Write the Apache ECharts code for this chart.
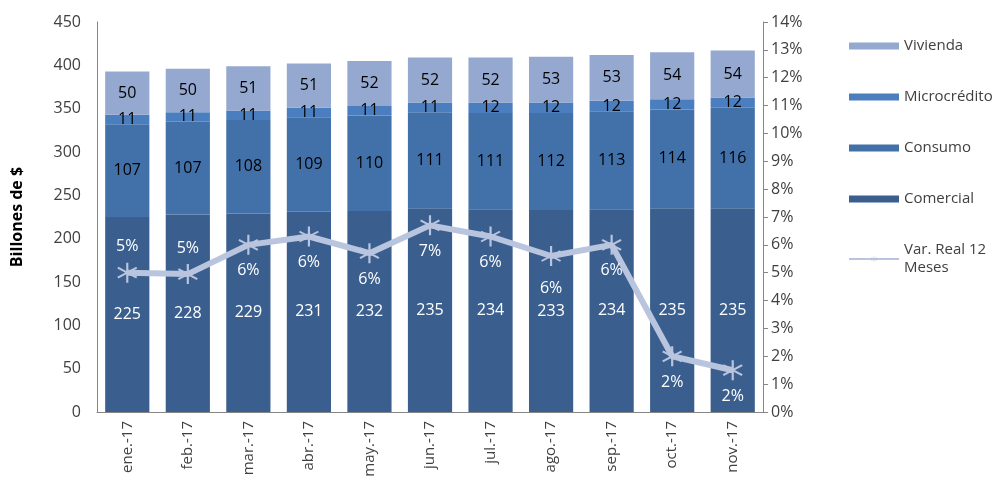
<!DOCTYPE html>
<html><head><meta charset="utf-8">
<script src="https://cdn.jsdelivr.net/npm/echarts@6/dist/echarts.min.js"></script>
<style>html,body{margin:0;padding:0;background:#fff}#c{width:1004px;height:497px}</style>
</head><body><div id="c"></div>
<script>
var categories = ['ene.-17','feb.-17','mar.-17','abr.-17','may.-17','jun.-17','jul.-17','ago.-17','sep.-17','oct.-17','nov.-17'];
var comercial = [225,228,229,231,232,235,234,233,234,235,235];
var consumo = [107,107,108,109,110,111,111,112,113,114,116];
var microcredito = [11,11,11,11,11,11,12,12,12,12,12];
var vivienda = [50,50,51,51,52,52,52,53,53,54,54];
var varReal = [5.0,4.95,6.0,6.3,5.7,6.7,6.3,5.6,6.0,2.0,1.5];
var leftTicks = {min:0,max:450,interval:50};
var rightTicks = {min:0,max:14,interval:1};

var FONT = 'Open Sans';
var star = 'path://M-1,-10L1,-10L1,10L-1,10Z M-9.16,-4.13L-8.16,-5.87L9.16,4.13L8.16,5.87Z M-8.16,5.87L-9.16,4.13L8.16,-5.87L9.16,-4.13Z';
var lineLabelPos = ['top','top','bottom','bottom','bottom','bottom','bottom','bottom','bottom','bottom','bottom'];
var lineLabelDist = [8,8,8,8,8,8,8,14,8,8,8];

function barSeries(name, data, color, labelColor){
  return {name:name,type:'bar',stack:'t',data:data,barCategoryGap:'27%',
    itemStyle:{color:color},
    label:{show:true,position:'inside',color:labelColor,fontFamily:FONT,fontSize:16},
    z:2};
}
var chart = echarts.init(document.getElementById('c'));
chart.setOption({
  animation:false,
  textStyle:{fontFamily:FONT},
  grid:{left:97,right:241,top:22,bottom:85},
  legend:{orient:'vertical',left:843,top:32,itemGap:33,itemWidth:50,itemHeight:7,
    textStyle:{fontFamily:FONT,fontSize:15,color:'#404040',lineHeight:18},
    data:[{name:'Vivienda',icon:'rect'},{name:'Microcrédito',icon:'rect'},{name:'Consumo',icon:'rect'},{name:'Comercial',icon:'rect'},{name:'Var. Real 12\nMeses'}]},
  xAxis:{type:'category',data:categories,
    axisLine:{lineStyle:{color:'#868686'}},axisTick:{show:false},
    axisLabel:{rotate:90,fontFamily:FONT,fontSize:15,color:'#404040',margin:9}},
  yAxis:[
    {type:'value',min:leftTicks.min,max:leftTicks.max,interval:leftTicks.interval,
      name:'Billones de $',nameLocation:'middle',nameGap:72,
      nameTextStyle:{fontFamily:FONT,fontSize:16,fontWeight:'bold',color:'#000'},
      axisLine:{show:true,lineStyle:{color:'#868686'}},axisTick:{show:false},
      splitLine:{show:false},
      axisLabel:{fontFamily:FONT,fontSize:16,color:'#404040',margin:16}},
    {type:'value',min:rightTicks.min,max:rightTicks.max,interval:rightTicks.interval,
      axisLine:{show:true,lineStyle:{color:'#868686'}},
      axisTick:{show:true,length:5,lineStyle:{color:'#868686'}},
      splitLine:{show:false},
      axisLabel:{fontFamily:FONT,fontSize:16,color:'#404040',margin:8,formatter:'{value}%'}}
  ],
  series:[
    barSeries('Comercial',comercial,'#3A5F8E','#ffffff'),
    barSeries('Consumo',consumo,'#4271A9','#000000'),
    barSeries('Microcrédito',microcredito,'#4A7EBE','#000000'),
    barSeries('Vivienda',vivienda,'#95A9D0','#000000'),
    {name:'Var. Real 12\nMeses',type:'line',yAxisIndex:1,
      data:varReal.map(function(v,i){return {value:v,label:{position:lineLabelPos[i],distance:lineLabelDist[i]}};}),
      lineStyle:{color:'#B9C4DE',width:6},itemStyle:{color:'#B9C4DE'},
      symbol:star,symbolSize:20,z:5,
      label:{show:true,color:'#ffffff',fontFamily:FONT,fontSize:16,distance:8,
        formatter:function(p){return Math.round(p.value)+'%';}}}
  ]
});
</script></body></html>
